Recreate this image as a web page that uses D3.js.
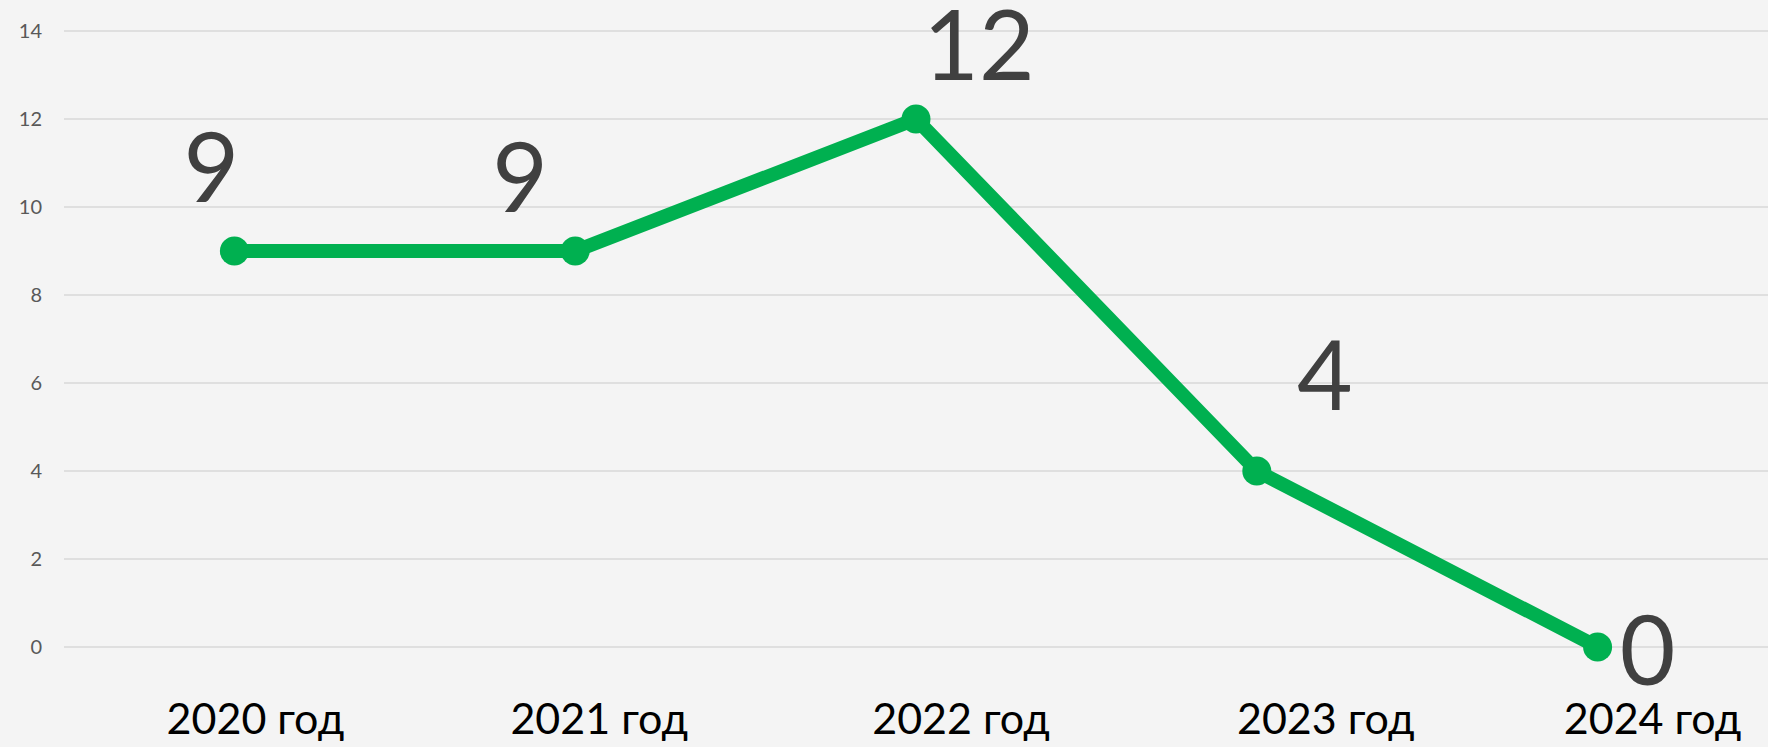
<!DOCTYPE html>
<html lang="ru">
<head>
    <meta charset="utf-8">
    <title>2020-2024</title>
    <script src="https://d3js.org/d3.v7.min.js"></script>
    <style>
        html, body { margin: 0; padding: 0; background: #f4f4f4; }
        svg { display: block; font-family: Lato, "Open Sans", sans-serif; }
    </style>
</head>
<body>
<div id="chart"></div>
<script>
// data
var years = ["2020 год", "2021 год", "2022 год", "2023 год", "2024 год"];
var values = [9, 9, 12, 4, 0];
var yTicks = [0, 2, 4, 6, 8, 10, 12, 14];

// the value labels and the year labels are nudged by hand in the original
var labelDx = [-23, -55, 63, 68, 50];
var labelDy = [-49, -39, -39, -61, 38];
var yearDx = [21, 24, 45, 69, 55];

var width = 1768;
var height = 747;
var plotLeft = 64, plotTop = 31, plotBottom = 647;

var svg = d3.select("#chart")
    .append("svg")
    .attr("width", width)
    .attr("height", height);

svg.append("rect")
    .attr("width", width)
    .attr("height", height)
    .attr("fill", "#f4f4f4");

var x = d3.scaleBand()
    .domain(years)
    .range([plotLeft, width]);

var y = d3.scaleLinear()
    .domain([0, 14])
    .range([plotBottom, plotTop]);

// gridlines
svg.append("g")
    .selectAll("line")
    .data(yTicks)
    .enter()
    .append("line")
    .attr("x1", plotLeft)
    .attr("x2", width)
    .attr("y1", function(d){ return y(d); })
    .attr("y2", function(d){ return y(d); })
    .attr("stroke", "#d9d9d9")
    .attr("stroke-width", 1.5);

// y axis labels
var yAxis = svg.append("g")
    .attr("transform", "translate(" + (plotLeft - 22) + ",0)")
    .call(d3.axisLeft(y).tickValues(yTicks).tickSize(0).tickPadding(0));
yAxis.select(".domain").remove();
yAxis.selectAll("text")
    .attr("fill", "#595959")
    .style("font-size", "20px")
    .style("font-family", "Lato, sans-serif");

// x axis labels
var xAxis = svg.append("g")
    .attr("transform", "translate(0," + plotBottom + ")")
    .call(d3.axisBottom(x).tickSize(0).tickPadding(0));
xAxis.select(".domain").remove();
xAxis.selectAll("text")
    .attr("fill", "#000")
    .attr("dy", null)
    .attr("y", 87)
    .attr("x", function(d, i){ return yearDx[i]; })
    .style("font-size", "43px")
    .style("font-family", "Lato, sans-serif");

var cx = function(d, i){ return x(years[i]) + x.bandwidth() / 2; };

var line = d3.line()
    .x(function(d, i){ return cx(d, i); })
    .y(function(d){ return y(d); });

svg.append("path")
    .datum(values)
    .attr("d", line)
    .attr("fill", "none")
    .attr("stroke", "#00b050")
    .attr("stroke-width", 14)
    .attr("stroke-linejoin", "round");

svg.append("g")
    .selectAll("circle")
    .data(values)
    .enter()
    .append("circle")
    .attr("cx", cx)
    .attr("cy", function(d){ return y(d); })
    .attr("r", 14.5)
    .attr("fill", "#00b050");

// value labels
svg.append("g")
    .selectAll("text")
    .data(values)
    .enter()
    .append("text")
    .attr("x", function(d, i){ return cx(d, i) + labelDx[i]; })
    .attr("y", function(d, i){ return y(d) + labelDy[i]; })
    .attr("text-anchor", "middle")
    .attr("fill", "#404040")
    .style("font-size", "96px")
    .text(function(d){ return d; });
</script>
</body>
</html>
